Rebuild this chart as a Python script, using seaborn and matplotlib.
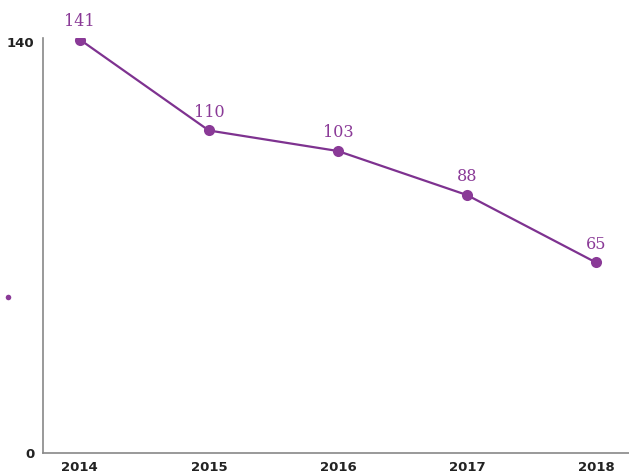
import seaborn as sns
import matplotlib.pyplot as plt
import pandas as pd

years = ['2014', '2015', '2016', '2017', '2018']
values = [141, 110, 103, 88, 65]

df = pd.DataFrame({'Year': years, 'Value': values})

sns.set_style('white')
purple = '#8a3a97'
line_purple = '#7e3290'

fig = plt.figure(figsize=(6.29, 4.76), dpi=100)
ax = fig.add_axes([0.068, 0.048, 0.932, 0.872])

sns.lineplot(data=df, x='Year', y='Value', marker='o', color=line_purple,
             linewidth=1.6, markersize=8, markeredgewidth=0,
             markerfacecolor=purple, ax=ax)

# value labels above each point
for i, v in enumerate(values):
    ax.annotate(str(v), (i, v), xytext=(0, 7), textcoords='offset points',
                ha='center', va='bottom', color=purple, fontsize=11.5,
                family='DejaVu Serif')

ax.set_xlim(-0.287, 4.256)
ax.set_ylim(0, 141.5)
ax.set_yticks([0, 140])
ax.set_xlabel('')
ax.set_ylabel('')
ax.tick_params(axis='x', length=0, pad=6, labelsize=9.5, colors='#222222')
ax.tick_params(axis='y', length=3, width=1, pad=3, labelsize=9.5, colors='#222222')
for lab in ax.get_xticklabels() + ax.get_yticklabels():
    lab.set_fontweight('bold')

sns.despine(ax=ax, top=True, right=True)
ax.spines['left'].set_color('#888888')
ax.spines['bottom'].set_color('#888888')
ax.spines['left'].set_linewidth(1.2)
ax.spines['bottom'].set_linewidth(1.2)

# leftover legend marker at the left edge
fig.lines.append(plt.Line2D([0.013], [1 - 297 / 476], marker='o', color=purple,
                            markersize=4, markeredgewidth=0,
                            transform=fig.transFigure))

fig.savefig('out.png', dpi=100)
